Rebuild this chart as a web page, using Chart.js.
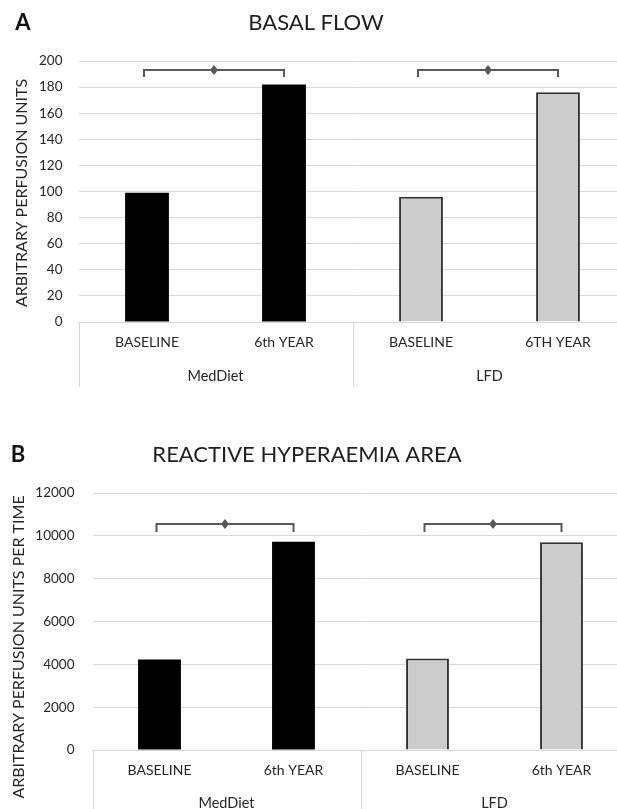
<!DOCTYPE html>
<html>
<head>
<meta charset="utf-8">
<script src="https://cdn.jsdelivr.net/npm/chart.js@4.4.1/dist/chart.umd.min.js"></script>
<style>
  html, body { margin: 0; padding: 0; background: #fff; overflow: hidden; }
  .panel { position: absolute; left: 0; }
  #panelA { top: 0; }
  #panelB { top: 400px; }
</style>
</head>
<body>
<div class="panel" id="panelA"><canvas id="chartA" width="632" height="400"></canvas></div>
<div class="panel" id="panelB"><canvas id="chartB" width="632" height="430"></canvas></div>
<script>
// data
const groups = ['MedDiet', 'LFD'];
const basalLabels = ['BASELINE', '6th YEAR', 'BASELINE', '6TH YEAR'];
const hyperLabels = ['BASELINE', '6th YEAR', 'BASELINE', '6th YEAR'];
const basalFlow = [99, 182, 96, 176];
const hyperaemiaArea = [4230, 9720, 4270, 9700];
const basalTicks = [0, 20, 40, 60, 80, 100, 120, 140, 160, 180, 200];
const hyperTicks = [0, 2000, 4000, 6000, 8000, 10000, 12000];
// significance brackets: [from category, to category, level]
const basalBrackets = [[0, 1, 193], [2, 3, 193]];
const hyperBrackets = [[0, 1, 10550], [2, 3, 10550]];

const FONT = 'Lato, "Open Sans", sans-serif';
Chart.defaults.font.family = FONT;
const TEXT = '#262626';

// bars: black for MedDiet, grey for LFD
const fills = ['#000000', '#000000', '#cccccc', '#cccccc'];
const borders = ['#000000', '#000000', '#333333', '#333333'];

const decor = {
  id: 'decor',
  afterDraw(chart, args, o) {
    const { ctx, chartArea: a, scales: { x, y } } = chart;
    ctx.save();
    ctx.textAlign = 'center';
    ctx.textBaseline = 'middle';

    // panel letter and title
    ctx.fillStyle = '#111';
    ctx.font = 'bold 22px ' + FONT;
    ctx.fillText(o.letter, o.letterPos[0], o.letterPos[1]);
    ctx.fillStyle = '#1f1f1f';
    ctx.font = '22px ' + FONT;
    ctx.fillText(o.title, o.titlePos[0], o.titlePos[1]);

    // y axis title
    ctx.save();
    ctx.translate(o.yTitlePos[0], o.yTitlePos[1]);
    ctx.rotate(-Math.PI / 2);
    ctx.font = '16px ' + FONT;
    ctx.fillStyle = TEXT;
    ctx.fillText(o.yTitle, 0, 0);
    ctx.restore();

    // group separators + group names under the categories
    const step = x.getPixelForValue(1) - x.getPixelForValue(0);
    const per = chart.data.labels.length / groups.length;
    ctx.strokeStyle = '#d9d9d9';
    ctx.lineWidth = 1;
    for (let g = 0; g <= groups.length; g++) {
      const px = Math.round(x.getPixelForValue(g * per) - step / 2) + 0.5;
      ctx.beginPath();
      ctx.moveTo(px, a.bottom);
      ctx.lineTo(px, a.bottom + o.sepLength);
      ctx.stroke();
    }
    ctx.font = '14.5px ' + FONT;
    ctx.fillStyle = TEXT;
    groups.forEach((name, i) => {
      const cx = (x.getPixelForValue(i * per) + x.getPixelForValue(i * per + per - 1)) / 2;
      ctx.fillText(name, cx, a.bottom + o.groupOffset);
    });

    // brackets with diamond marker
    ctx.strokeStyle = '#595959';
    ctx.fillStyle = '#595959';
    ctx.lineWidth = 2;
    o.brackets.forEach(([i0, i1, level]) => {
      const x0 = x.getPixelForValue(i0) - 3;
      const x1 = x.getPixelForValue(i1);
      const yy = Math.round(y.getPixelForValue(level));
      ctx.beginPath();
      ctx.moveTo(x0, yy + o.drop);
      ctx.lineTo(x0, yy);
      ctx.lineTo(x1, yy);
      ctx.lineTo(x1, yy + o.drop);
      ctx.stroke();
      const mx = (x0 + x1) / 2;
      ctx.beginPath();
      ctx.moveTo(mx, yy - 5);
      ctx.lineTo(mx + 4, yy);
      ctx.lineTo(mx, yy + 5);
      ctx.lineTo(mx - 4, yy);
      ctx.closePath();
      ctx.fill();
    });
    ctx.restore();
  }
};

function makeChart(id, labels, values, ticks, cfg) {
  return new Chart(document.getElementById(id), {
    type: 'bar',
    data: {
      labels: labels,
      datasets: [{
        data: values,
        backgroundColor: fills,
        borderColor: borders,
        borderWidth: [0, 0, 2, 2],
        categoryPercentage: 1,
        barPercentage: 0.32
      }]
    },
    options: {
      responsive: false,
      animation: false,
      events: [],
      layout: { padding: { top: cfg.top, right: cfg.right, left: 0, bottom: 0 } },
      plugins: {
        legend: { display: false },
        tooltip: { enabled: false },
        decor: cfg.decor
      },
      scales: {
        x: {
          grid: { display: false, drawTicks: false },
          border: { display: true, color: '#d9d9d9' },
          ticks: { color: TEXT, font: { size: 14 }, padding: 12, maxRotation: 0 },
          afterFit: s => { s.height = cfg.xHeight; }
        },
        y: {
          min: ticks[0],
          max: ticks[ticks.length - 1],
          ticks: {
            stepSize: ticks[1] - ticks[0],
            color: TEXT,
            font: { size: 13.5 },
            padding: cfg.tickPad,
            callback: v => String(v)
          },
          grid: { color: '#d9d9d9', drawTicks: false },
          border: { display: false },
          afterFit: s => { s.width = cfg.yWidth; }
        }
      }
    },
    plugins: [decor]
  });
}

makeChart('chartA', basalLabels, basalFlow, basalTicks, {
  top: 61, right: 5.5, xHeight: 78, yWidth: 78.5, tickPad: 16,
  decor: {
    letter: 'A', letterPos: [23, 23],
    title: 'BASAL FLOW', titlePos: [316, 23],
    yTitle: 'ARBITRARY PERFUSION UNITS', yTitlePos: [22, 193],
    sepLength: 65, groupOffset: 54, drop: 7,
    brackets: basalBrackets
  }
});

makeChart('chartB', hyperLabels, hyperaemiaArea, hyperTicks, {
  top: 93, right: 3.5, xHeight: 80, yWidth: 92.5, tickPad: 18,
  decor: {
    letter: 'B', letterPos: [18, 55],
    title: 'REACTIVE HYPERAEMIA AREA', titlePos: [307, 55],
    yTitle: 'ARBITRARY PERFUSION UNITS PER TIME', yTitlePos: [19, 247],
    sepLength: 80, groupOffset: 53, drop: 8,
    brackets: hyperBrackets
  }
});
</script>
</body>
</html>
